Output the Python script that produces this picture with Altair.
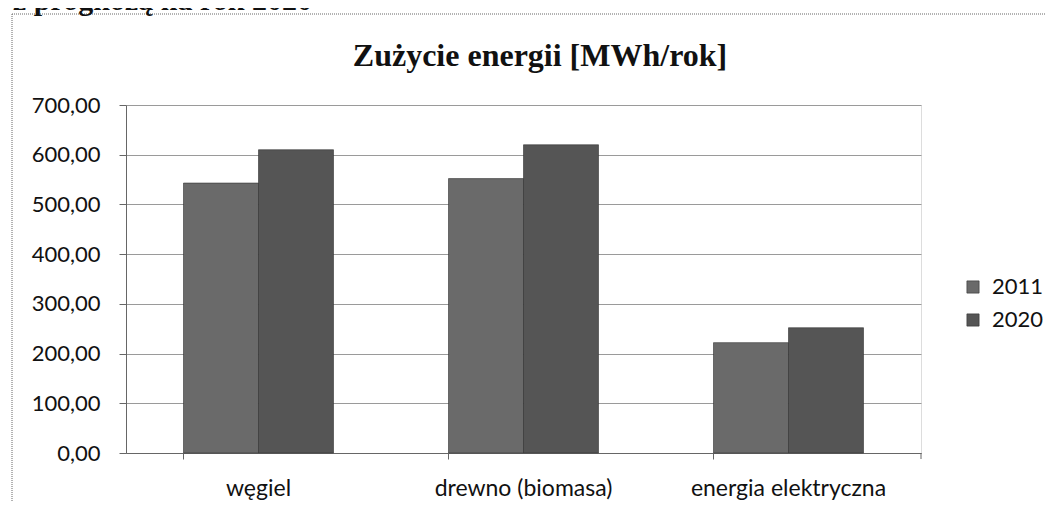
import altair as alt
import pandas as pd

categories = ["węgiel", "drewno (biomasa)", "energia elektryczna"]
years = ["2011", "2020"]
values_2011 = [543, 552, 222]
values_2020 = [610, 620, 252]
title_text = "Zużycie energii [MWh/rok]"
header_text = "z prognozą na rok 2020"

rows = []
for c, v in zip(categories, values_2011):
    rows.append({"kategoria": c, "rok": "2011", "wartosc": v})
for c, v in zip(categories, values_2020):
    rows.append({"kategoria": c, "rok": "2020", "wartosc": v})
df = pd.DataFrame(rows)

W, H = 795, 348
label_font = "Lato"

bars = alt.Chart(df).mark_bar(stroke="#333333", strokeWidth=0.6).encode(
    x=alt.X(
        "kategoria:N",
        sort=categories,
        scale=alt.Scale(paddingInner=0.434, paddingOuter=0.217),
        axis=alt.Axis(
            title=None, labelAngle=0, bandPosition=0, tickSize=6, tickColor="#666666",
            domainColor="#666666", labelFont=label_font, labelFontSize=23,
            labelColor="#111111", labelPadding=18, grid=False, labelLimit=400,
        ),
    ),
    xOffset=alt.XOffset("rok:N", sort=years),
    y=alt.Y(
        "wartosc:Q",
        scale=alt.Scale(domain=[0, 700], nice=False),
        axis=alt.Axis(
            title=None, values=[0, 100, 200, 300, 400, 500, 600, 700],
            labelExpr="replace(format(datum.value, '.2f'), '.', ',')",
            tickSize=7, tickColor="#666666", domainColor="#666666",
            labelFont=label_font, labelFontSize=22, labelColor="#111111",
            labelPadding=19, grid=True, gridColor="#9a9a9a", gridWidth=1,
        ),
    ),
    color=alt.Color(
        "rok:N",
        scale=alt.Scale(domain=years, range=["#6a6a6a", "#555555"]),
        legend=alt.Legend(
            title=None, orient="none", legendX=836, legendY=171,
            symbolType="square", symbolSize=150, symbolStrokeColor="#333333",
            symbolStrokeWidth=0.6, labelFont=label_font, labelFontSize=22,
            labelColor="#111111", rowPadding=11, labelOffset=8,
        ),
    ),
)

end_tick = alt.Chart(pd.DataFrame({"a": [0]})).mark_rule(color="#666666").encode(
    x=alt.value(W), y=alt.value(H), y2=alt.value(H + 6)
)

border_df = pd.DataFrame({"a": [0]})
border_left = alt.Chart(border_df).mark_rule(color="#666666", strokeDash=[1, 1]).encode(
    x=alt.value(-114), y=alt.value(-91), y2=alt.value(400)
)
border_top = alt.Chart(border_df).mark_rule(color="#666666", strokeDash=[1, 1]).encode(
    x=alt.value(-114), x2=alt.value(925), y=alt.value(-91)
)

header = alt.Chart(pd.DataFrame({"t": [header_text]})).mark_text(
    font="Liberation Serif", fontWeight="bold", fontSize=30, align="left",
    baseline="alphabetic", color="#111111",
).encode(text="t:N", x=alt.value(-113), y=alt.value(-95))

title = alt.Chart(pd.DataFrame({"t": [title_text]})).mark_text(
    font="Liberation Serif", fontWeight="bold", fontSize=32, align="center",
    baseline="alphabetic", color="#111111",
).encode(text="t:N", x=alt.value(414), y=alt.value(-39))

chart = alt.layer(bars, end_tick, border_left, border_top, header, title).properties(
    width=W,
    height=H,
    autosize=alt.AutoSizeParams(type="none"),
    padding={"left": 118, "top": 97, "right": 125, "bottom": 48},
).configure_view(stroke=None).configure(background="white")

chart.save("out.html", embed_options={"renderer": "svg", "actions": False})
